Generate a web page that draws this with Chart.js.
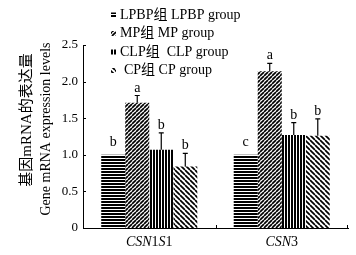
<!DOCTYPE html>
<html>
<head>
<meta charset="utf-8">
<script src="https://cdn.jsdelivr.net/npm/chart.js@4.4.1/dist/chart.umd.min.js"></script>
<style>
  body { margin: 0; background: #fff; }
  #wrap { width: 356px; height: 255px; }
</style>
</head>
<body>
<div id="wrap"><canvas id="chart"></canvas></div>
<script>
// Data
const genes = ['CSN1S1', 'CSN3'];
const groupNames = ['LPBP组 LPBP group', 'MP组 MP group', 'CLP组  CLP group', 'CP组 CP group'];
const lpbpValues = [1.00, 1.00];
const mpValues = [1.71, 2.14];
const clpValues = [1.07, 1.27];
const cpValues = [0.84, 1.26];
const lpbpErr = [0, 0];
const mpErr = [0.10, 0.11];
const clpErr = [0.23, 0.17];
const cpErr = [0.18, 0.23];
const lpbpLetters = ['b', 'c'];
const mpLetters = ['a', 'a'];
const clpLetters = ['b', 'b'];
const cpLetters = ['b', 'b'];
const yTicks = [0, 0.5, 1.0, 1.5, 2.0, 2.5];

const serif = "'Liberation Serif', 'Noto Sans CJK SC', serif";
const canvas = document.getElementById('chart');
const ctx = canvas.getContext('2d');

// Build a black/white hatch pattern
function makePattern(kind) {
  const s = kind === 'h' || kind === 'v' ? 3 : (kind === '/' ? 4 : 5);
  const c = document.createElement('canvas');
  c.width = s; c.height = s;
  const g = c.getContext('2d');
  g.fillStyle = '#fff';
  g.fillRect(0, 0, s, s);
  g.fillStyle = '#000';
  g.strokeStyle = '#000';
  g.lineWidth = 1.7;
  if (kind === 'h') g.fillRect(0, 0, s, 2);
  if (kind === 'v') g.fillRect(0, 0, 2, s);
  if (kind === '/' || kind === '\\') {
    [-s, 0, s].forEach(o => {
      g.beginPath();
      if (kind === '/') { g.moveTo(o, s); g.lineTo(o + s, 0); }
      else { g.moveTo(o, 0); g.lineTo(o + s, s); }
      g.stroke();
    });
  }
  return ctx.createPattern(c, 'repeat');
}

const patterns = [makePattern('h'), makePattern('/'), makePattern('v'), makePattern('\\')];
const seriesValues = [lpbpValues, mpValues, clpValues, cpValues];
const seriesErr = [lpbpErr, mpErr, clpErr, cpErr];
const seriesLetters = [lpbpLetters, mpLetters, clpLetters, cpLetters];

const datasets = seriesValues.map((vals, i) => ({
  label: groupNames[i],
  data: vals,
  backgroundColor: patterns[i],
  borderWidth: 0,
  barPercentage: 1,
  categoryPercentage: 0.725
}));

// Error bars, significance letters, titles, legend, inward ticks
const decorPlugin = {
  id: 'decor',
  afterDatasetsDraw(chart) {
    const c = chart.ctx;
    const y = chart.scales.y;
    const x = chart.scales.x;
    const area = chart.chartArea;
    c.save();
    c.strokeStyle = '#000';
    c.fillStyle = '#000';
    c.lineWidth = 1.2;
    chart.data.datasets.forEach((ds, di) => {
      const meta = chart.getDatasetMeta(di);
      meta.data.forEach((bar, i) => {
        const err = seriesErr[di][i];
        let top = bar.y;
        if (err > 0) {
          top = y.getPixelForValue(ds.data[i] + err);
          c.beginPath();
          c.moveTo(bar.x, bar.y);
          c.lineTo(bar.x, top);
          c.moveTo(bar.x - 2.5, top);
          c.lineTo(bar.x + 2.5, top);
          c.stroke();
        }
        c.font = '14px ' + serif;
        c.textAlign = 'center';
        c.textBaseline = 'alphabetic';
        c.fillText(seriesLetters[di][i], bar.x, top - (err > 0 ? 4 : 9));
      });
    });

    // inward ticks
    c.lineWidth = 1;
    c.beginPath();
    yTicks.forEach(v => {
      const py = Math.round(y.getPixelForValue(v)) + 0.5;
      c.moveTo(area.left, py);
      c.lineTo(area.left + 3, py);
    });
    const mid = Math.round((area.left + area.right) / 2) + 0.5;
    c.moveTo(mid, area.bottom);
    c.lineTo(mid, area.bottom - 3);
    c.moveTo(area.right - 0.5, area.bottom);
    c.lineTo(area.right - 0.5, area.bottom - 3);
    c.stroke();

    // x labels with italic letters and upright digits
    c.textBaseline = 'middle';
    c.textAlign = 'left';
    genes.forEach((g, i) => {
      const parts = g.match(/[A-Z]+|[0-9]+/g);
      const fonts = parts.map(p => (/[0-9]/.test(p) ? '' : 'italic ') + '14px ' + serif);
      let w = 0;
      parts.forEach((p, k) => { c.font = fonts[k]; w += c.measureText(p).width; });
      let px = x.getPixelForValue(i) - w / 2;
      parts.forEach((p, k) => {
        c.font = fonts[k];
        c.fillText(p, px, 242);
        px += c.measureText(p).width;
      });
    });

    // y axis titles
    c.textAlign = 'center';
    c.save();
    c.translate(27, 120);
    c.rotate(-Math.PI / 2);
    c.font = '15px ' + serif;
    c.fillText('基因mRNA的表达量', 0, 0);
    c.restore();
    c.save();
    c.translate(46, 129);
    c.rotate(-Math.PI / 2);
    c.font = '14px ' + serif;
    c.fillText('Gene mRNA expression levels', 0, 0);
    c.restore();

    // legend
    c.textAlign = 'left';
    c.font = '14px ' + serif;
    const legendY = [15, 33.5, 52, 70.5];
    const textX = [120, 120, 120, 124];
    groupNames.forEach((name, i) => {
      c.fillStyle = patterns[i];
      c.fillRect(111, legendY[i] - 2.5, 5, 5);
      c.fillStyle = '#000';
      c.fillText(name, textX[i], legendY[i]);
    });
    c.restore();
  }
};

new Chart(canvas, {
  type: 'bar',
  data: { labels: genes, datasets: datasets },
  options: {
    responsive: true,
    maintainAspectRatio: false,
    animation: false,
    layout: { padding: { top: 45, right: 8, left: 0, bottom: 0 } },
    plugins: { legend: { display: false }, tooltip: { enabled: false } },
    scales: {
      x: {
        grid: { display: false },
        border: { display: true, color: '#000', width: 1 },
        ticks: { display: false },
        afterFit(scale) { scale.height = 27; }
      },
      y: {
        min: 0,
        max: 2.5,
        afterBuildTicks(scale) { scale.ticks = yTicks.map(v => ({ value: v })); },
        grid: { display: false, drawTicks: false },
        border: { display: true, color: '#000', width: 1 },
        ticks: {
          color: '#000',
          padding: 5,
          font: { family: serif, size: 13 },
          callback: v => (v === 0 ? '0' : v.toFixed(1))
        },
        afterFit(scale) { scale.width = 83; }
      }
    }
  },
  plugins: [decorPlugin]
});
</script>
</body>
</html>
